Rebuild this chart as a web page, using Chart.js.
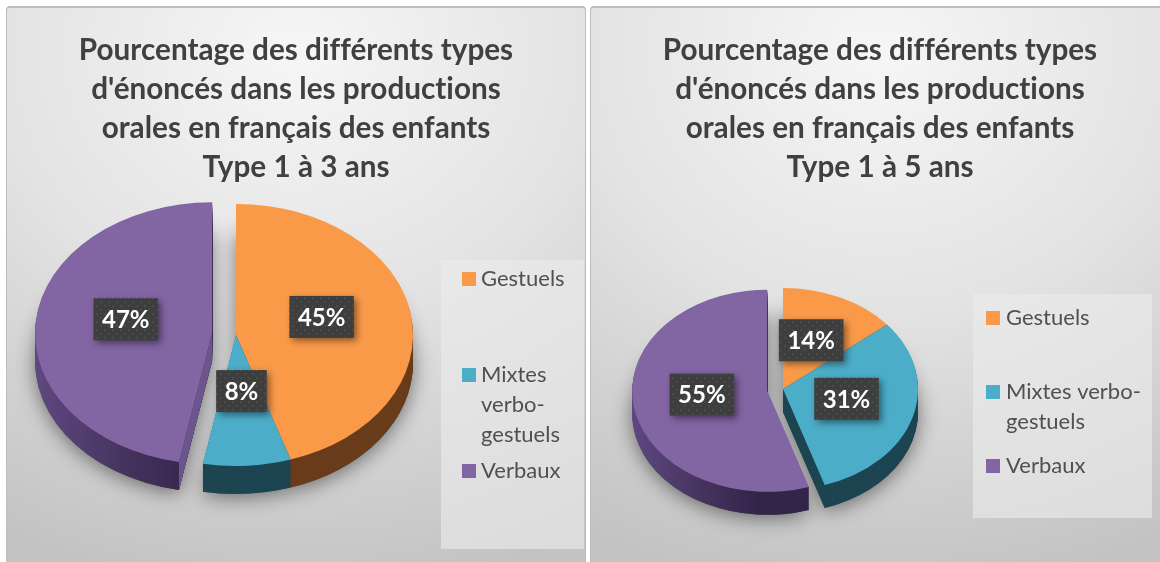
<!DOCTYPE html>
<html lang="fr"><head><meta charset="utf-8">
<style>
html,body{margin:0;padding:0;width:1160px;height:562px;overflow:hidden;background:#fff}
.panel{position:absolute;top:6px;width:578px;height:560px;border:1px solid #bdbdbd;border-top:2px solid #bdbdbd;border-radius:4px;
background:radial-gradient(ellipse 620px 540px at 50% 8%,#f6f6f6 0%,#e3e3e3 48%,#c3c3c3 100%);overflow:hidden}
canvas{display:block;position:absolute;left:0;top:0}
</style>
<script src="https://cdn.jsdelivr.net/npm/chart.js@4"></script>
</head><body>
<div class="panel" style="left:6px"><canvas id="c1" width="578" height="560"></canvas></div>
<div class="panel" style="left:590px"><canvas id="c2" width="578" height="560"></canvas></div>
<script>
const categories = ["Gestuels", "Mixtes verbo-gestuels", "Verbaux"];
const values3ans = [45, 8, 47];
const values5ans = [14, 31, 55];
const titleCommon = ["Pourcentage des différents types", "d'énoncés dans les productions", "orales en français des enfants"];
const title3ans = "Type 1 à 3 ans";
const title5ans = "Type 1 à 5 ans";
const legend3ans = [["Gestuels"], ["Mixtes", "verbo-", "gestuels"], ["Verbaux"]];
const legend5ans = [["Gestuels"], ["Mixtes verbo-", "gestuels"], ["Verbaux"]];
const topColors = ["#FA9A49", "#4BADC8", "#8265A3"];
const sideColors = ["#693C1B", "#1D4551", "#4A3868"];
const FONT = "Lato, Carlito, 'Open Sans', sans-serif";

const dotPattern = (ctx) => {
  const p = document.createElement('canvas'); p.width = 8; p.height = 8;
  const g = p.getContext('2d');
  g.fillStyle = '#3e3e3e'; g.fillRect(0,0,8,8);
  g.fillStyle = '#4a4a4a'; g.fillRect(1,1,2,2); g.fillRect(5,5,2,2);
  return ctx.createPattern(p, 'repeat');
};

const pie3d = {
  id: 'pie3d',
  beforeDraw(chart) { chart.ctx.letterSpacing = '0.01px'; },
  beforeDatasetDraw(chart, args, o) {
    const ctx = chart.ctx;
    const arcs = chart.getDatasetMeta(0).data;
    const ratio = o.ry / o.rx;
    const shift = (i) => i === 2 ? o.explode : 0;
    const place = (a, i, dy) => {
      const mid = (a.startAngle + a.endAngle) / 2;
      ctx.translate(o.cx, o.cy + dy);
      ctx.scale(1, ratio);
      ctx.translate(Math.cos(mid) * shift(i), Math.sin(mid) * shift(i));
    };
    const wedge = (a) => {
      ctx.beginPath(); ctx.moveTo(0, 0);
      ctx.arc(0, 0, a.outerRadius, a.startAngle, a.endAngle);
      ctx.closePath();
    };
    // cast shadow
    arcs.forEach((a, i) => {
      ctx.save();
      ctx.shadowColor = 'rgba(0,0,0,0.5)'; ctx.shadowBlur = 20; ctx.shadowOffsetY = 3;
      place(a, i, o.depth); wedge(a); ctx.fillStyle = '#555'; ctx.fill();
      ctx.restore();
    });
    // side walls
    arcs.forEach((a, i) => {
      for (let d = o.depth; d >= 1; d--) {
        ctx.save(); place(a, i, d); wedge(a);
        if (i === 2) {
          const g = ctx.createLinearGradient(-o.rx, 0, o.rx * 0.1, 0);
          g.addColorStop(0, '#5E4880'); g.addColorStop(0.45, '#46345F'); g.addColorStop(0.85, '#33244A'); g.addColorStop(1, '#33244A');
          ctx.fillStyle = g;
        } else ctx.fillStyle = sideColors[i];
        ctx.fill(); ctx.restore();
      }
    });
    // cut face of the exploded slice
    const a = arcs[2];
    const mid = (a.startAngle + a.endAngle) / 2;
    if (o.cutFace) {
      const x0 = o.cx + Math.cos(mid) * o.explode, y0 = o.cy + Math.sin(mid) * o.explode * ratio;
      const x1 = x0 + Math.cos(a.startAngle) * a.outerRadius, y1 = y0 + Math.sin(a.startAngle) * a.outerRadius * ratio;
      ctx.save(); ctx.beginPath();
      ctx.moveTo(x0, y0); ctx.lineTo(x1, y1); ctx.lineTo(x1, y1 + o.depth); ctx.lineTo(x0, y0 + o.depth); ctx.closePath();
      ctx.fillStyle = '#6C558C'; ctx.fill(); ctx.restore();
    }
    // the library draws the top faces, flattened; the exploded slice is moved out along its mid angle
    if (!a._moved) {
      const orig = a.draw;
      a.draw = function (c, area) {
        c.save(); c.translate(Math.cos(mid) * o.explode, Math.sin(mid) * o.explode);
        orig.call(this, c, area); c.restore();
      };
      a._moved = true;
    }
    ctx.save();
    ctx.translate(o.cx, o.cy); ctx.scale(1, ratio); ctx.translate(-a.x, -a.y);
  },
  afterDatasetDraw(chart) { chart.ctx.restore(); },
  afterDatasetsDraw(chart, args, o) {
    const ctx = chart.ctx;
    const arcs = chart.getDatasetMeta(0).data;
    const vals = chart.data.datasets[0].data;
    const ratio = o.ry / o.rx;
    // data labels
    arcs.forEach((a, i) => {
      const off = i === 2 ? o.explode : 0, mid = (a.startAngle + a.endAngle) / 2;
      const r = off + a.outerRadius * 0.49;
      const x = o.cx + Math.cos(mid) * r, y = o.cy + Math.sin(mid) * r * ratio - o.labelLift;
      const txt = vals[i] + '%';
      ctx.save();
      ctx.font = 'bold 24px ' + FONT;
      const w = ctx.measureText(txt).width + 17, h = 42;
      ctx.shadowColor = 'rgba(0,0,0,0.45)'; ctx.shadowBlur = 7; ctx.shadowOffsetX = 3; ctx.shadowOffsetY = 3;
      ctx.fillStyle = dotPattern(ctx);
      ctx.fillRect(x - w/2, y - h/2, w, h);
      ctx.shadowColor = 'transparent';
      ctx.fillStyle = '#fff'; ctx.textAlign = 'center'; ctx.textBaseline = 'middle';
      ctx.fillText(txt, x, y + 1);
      ctx.restore();
    });
    // legend
    const L = o.legend;
    ctx.save();
    ctx.fillStyle = 'rgba(235,235,235,0.62)';
    ctx.fillRect(L.x, L.y, L.w, L.h);
    ctx.font = L.size + 'px ' + FONT;
    ctx.textBaseline = 'middle'; ctx.textAlign = 'left';
    L.items.forEach((lines, i) => {
      const y = L.ys[i];
      ctx.fillStyle = topColors[i];
      ctx.fillRect(L.swatchX, y - 7, 14, 14);
      ctx.fillStyle = '#505050';
      lines.forEach((t, k) => ctx.fillText(t, L.textX, y + k * L.line));
    });
    ctx.restore();
  }
};

function make(id, values, lastTitle, geo) {
  return new Chart(document.getElementById(id), {
    type: 'pie',
    data: { labels: categories, datasets: [{
      data: values, backgroundColor: topColors, borderWidth: 0, clip: false
    }]},
    plugins: [pie3d],
    options: {
      responsive: false, animation: false,
      radius: geo.rx,
      layout: { padding: 0 },
      plugins: {
        legend: { display: false }, tooltip: { enabled: false },
        title: { display: true, text: [...titleCommon, lastTitle], color: '#404040',
          font: { family: FONT, size: 29.7, weight: 'bold', lineHeight: 1.313 }, padding: { top: 23, bottom: 10 } },
        pie3d: geo
      }
    }
  });
}

make('c1', values3ans, title3ans, { cx: 229, cy: 327, rx: 177, ry: 131, depth: 28, explode: 24, cutFace: true, labelLift: 8,
  legend: { x: 434, y: 252, w: 143, h: 289, swatchX: 455, textX: 474, size: 22, line: 30, ys: [271, 367, 463], items: legend3ans } });
make('c2', values5ans, title5ans, { cx: 192, cy: 381, rx: 135, ry: 101, depth: 23, explode: 16, cutFace: false, labelLift: 4,
  legend: { x: 382, y: 286, w: 179, h: 224, swatchX: 395, textX: 415, size: 22, line: 30, ys: [310, 384, 458], items: legend5ans } });
</script>
</body></html>
